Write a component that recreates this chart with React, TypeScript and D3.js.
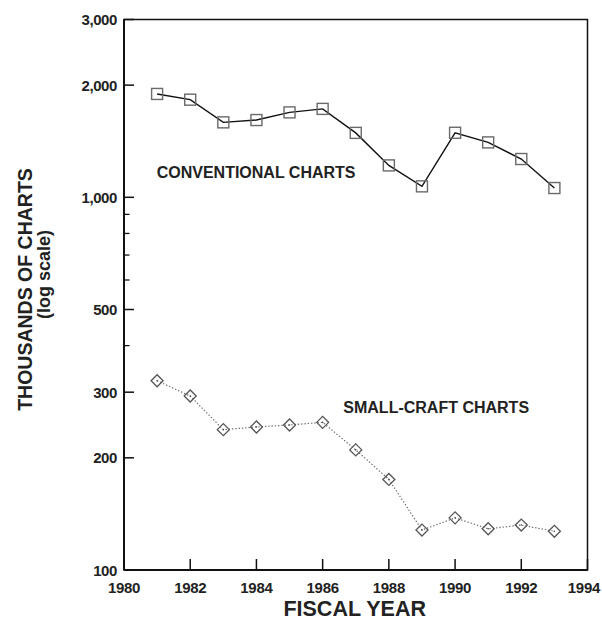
import React from "react";
import * as d3 from "d3";

const years = [1981, 1982, 1983, 1984, 1985, 1986, 1987, 1988, 1989, 1990, 1991, 1992, 1993];
const conventional = [1894, 1828, 1589, 1612, 1690, 1727, 1489, 1218, 1070, 1490, 1404, 1267, 1059];
const smallCraft = [322, 293, 238, 242, 245, 249, 210, 175, 128, 138, 129, 132, 127];
const xTicks = [1980, 1982, 1984, 1986, 1988, 1990, 1992, 1994];
const yMajor = [100, 200, 300, 500, 1000, 2000, 3000];
const yMinor = [400, 600, 700, 800, 900];

const W = 602, H = 621;
const L = 124, R = 587.5, T = 19.5, B = 570;
const FONT = "'Liberation Sans', Arial, sans-serif";
const TXT = "#222";

export default function App() {
  const x = d3.scaleLinear().domain([1980, 1994]).range([L, R]);
  const y = d3.scaleLog().domain([100, 3000]).range([B, T]);
  const fmt = d3.format(",");

  const convData = years.map((yr, i) => [yr, conventional[i]] as [number, number]);
  const smallData = years.map((yr, i) => [yr, smallCraft[i]] as [number, number]);
  const line = d3.line<[number, number]>().x(d => x(d[0])).y(d => y(d[1]));
  const sym = 5.5;
  const dia = 6;

  return (
    <svg width={W} height={H} style={{ position: "absolute", left: 0, top: 0, background: "#fff" }}>
      <rect x={0} y={0} width={W} height={H} fill="#fff" />
      {/* frame */}
      <rect x={L} y={T} width={R - L} height={B - T} fill="none" stroke="#111" strokeWidth={1.5} />
      <line x1={L} x2={L} y1={T} y2={B} stroke="#111" strokeWidth={2} />
      <line x1={L} x2={R} y1={B} y2={B} stroke="#111" strokeWidth={2} />

      {/* y ticks */}
      {yMajor.map(v => (
        <g key={"ym" + v}>
          <line x1={L} x2={L + 10} y1={y(v)} y2={y(v)} stroke="#111" strokeWidth={1.5} />
          <text x={117} y={y(v) + 5.5} textAnchor="end" fontFamily={FONT} fontWeight="bold" fontSize={15} fill={TXT} letterSpacing={-0.4}>
            {fmt(v)}
          </text>
        </g>
      ))}
      {yMinor.map(v => (
        <line key={"yn" + v} x1={L} x2={L + 5.5} y1={y(v)} y2={y(v)} stroke="#111" strokeWidth={1.3} />
      ))}

      {/* x ticks */}
      {xTicks.map((v, i) => {
        const last = i === xTicks.length - 1;
        return (
          <g key={"x" + v}>
            <line x1={x(v)} x2={x(v)} y1={B} y2={B - 11} stroke="#111" strokeWidth={1.5} />
            <text x={last ? 600 : x(v)} y={593.3} textAnchor={last ? "end" : "middle"} fontFamily={FONT} fontWeight="bold" fontSize={15} fill={TXT} letterSpacing={-0.3}>
              {v}
            </text>
          </g>
        );
      })}

      {/* conventional */}
      <path d={line(convData) || ""} fill="none" stroke="#111" strokeWidth={1.4} />
      {convData.map((d, i) => (
        <rect key={"c" + i} x={x(d[0]) - sym} y={y(d[1]) - sym} width={sym * 2} height={sym * 2} fill="none" stroke="#6a6a6a" strokeWidth={1.4} />
      ))}

      {/* small craft */}
      <path d={line(smallData) || ""} fill="none" stroke="#666" strokeWidth={1.2} strokeDasharray="1.3,2" />
      {smallData.map((d, i) => {
        const cx = x(d[0]), cy = y(d[1]);
        return (
          <g key={"s" + i}>
            <path d={`M${cx - dia},${cy} L${cx},${cy - dia} L${cx + dia},${cy} L${cx},${cy + dia} Z`} fill="none" stroke="#555" strokeWidth={1.3} />
            <circle cx={cx} cy={cy} r={0.8} fill="#444" />
          </g>
        );
      })}

      {/* series labels */}
      <text x={156.7} y={178.3} fontFamily={FONT} fontWeight="bold" fontSize={16} fill={TXT}>CONVENTIONAL CHARTS</text>
      <text x={343.3} y={413.3} fontFamily={FONT} fontWeight="bold" fontSize={16} fill={TXT}>SMALL-CRAFT CHARTS</text>

      {/* axis titles */}
      <text x={354.7} y={616} textAnchor="middle" fontFamily={FONT} fontWeight="bold" fontSize={21.5} fill={TXT}>FISCAL YEAR</text>
      <text transform={`translate(31.7,289.5) rotate(-90)`} textAnchor="middle" fontFamily={FONT} fontWeight="bold" fontSize={19.5} fill={TXT}>THOUSANDS OF CHARTS</text>
      <text transform={`translate(49.5,274.5) rotate(-90)`} textAnchor="middle" fontFamily={FONT} fontWeight="bold" fontSize={18} fill={TXT}>(log scale)</text>
    </svg>
  );
}
